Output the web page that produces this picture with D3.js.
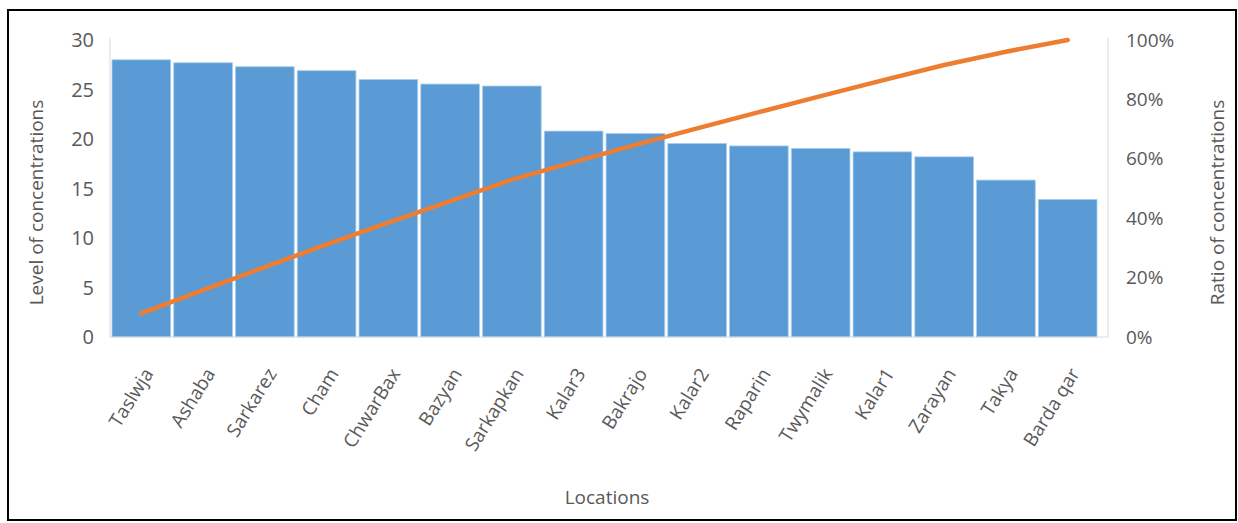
<!DOCTYPE html>
<html>
<head>
<meta charset="utf-8">
<script src="https://cdn.jsdelivr.net/npm/d3@7"></script>
<style>
body { margin: 0; background: #fff; }
svg text { font-family: "Open Sans", sans-serif; fill: #595959; }
</style>
</head>
<body>
<svg></svg>
<script>
var locations = ["Taslwja", "Ashaba", "Sarkarez", "Cham", "ChwarBax", "Bazyan", "Sarkapkan", "Kalar3",
	"Bakrajo", "Kalar2", "Raparin", "Twymalik", "Kalar1", "Zarayan", "Takya", "Barda qar"];
var levels = [28.0, 27.7, 27.3, 26.9, 26.0, 25.55, 25.35, 20.8, 20.55, 19.55, 19.3, 19.05, 18.7, 18.2, 15.85, 13.9];
var leftTicks = [0, 5, 10, 15, 20, 25, 30];
var rightTicks = [0, 0.2, 0.4, 0.6, 0.8, 1.0];

var width = 1238;
var height = 523;
var plotLeft = 110, plotRight = 1108, plotTop = 40, plotBottom = 337;
var fontSize = 19;

var svg = d3.select("svg").attr("width", width).attr("height", height);

// outer frame
svg.append("rect")
	.attr("x", 8).attr("y", 10)
	.attr("width", 1228).attr("height", 510)
	.attr("fill", "none")
	.attr("stroke", "#000")
	.attr("stroke-width", 2);

var x = d3.scaleBand()
	.domain(locations)
	.range([plotLeft + 2, plotRight - 11])
	.paddingInner(0.05)
	.paddingOuter(0);

var y = d3.scaleLinear().domain([0, 30]).range([plotBottom, plotTop]);
var y2 = d3.scaleLinear().domain([0, 1]).range([plotBottom, plotTop]);

// cumulative share of the total, as in a pareto chart
var total = d3.sum(levels);
var ratios = Array.from(d3.cumsum(levels), v => v / total);

// axis lines
svg.append("line")
	.attr("x1", plotLeft).attr("x2", plotLeft)
	.attr("y1", plotTop - 2).attr("y2", plotBottom)
	.attr("stroke", "#d9d9d9");
svg.append("line")
	.attr("x1", plotRight).attr("x2", plotRight)
	.attr("y1", plotTop - 2).attr("y2", plotBottom)
	.attr("stroke", "#d9d9d9");

// bars
svg.selectAll("rect.bar")
	.data(levels)
	.enter()
	.append("rect")
	.classed("bar", true)
	.attr("x", (d, i) => x(locations[i]))
	.attr("width", x.bandwidth())
	.attr("y", d => y(d))
	.attr("height", d => y(0) - y(d))
	.attr("fill", "#5b9bd5")
	.attr("stroke", "#a9cdee")
	.attr("stroke-width", 0.8);

svg.append("line")
	.attr("x1", plotLeft).attr("x2", plotRight)
	.attr("y1", plotBottom).attr("y2", plotBottom)
	.attr("stroke", "#d9d9d9");

// cumulative line
var line = d3.line()
	.x((d, i) => x(locations[i]) + x.bandwidth() / 2)
	.y(d => y2(d));

svg.append("path")
	.datum(ratios)
	.attr("d", line)
	.attr("fill", "none")
	.attr("stroke", "#ed7d31")
	.attr("stroke-width", 4.5)
	.attr("stroke-linecap", "round")
	.attr("stroke-linejoin", "round");

// left ticks
svg.selectAll("text.ytick")
	.data(leftTicks)
	.enter()
	.append("text")
	.classed("ytick", true)
	.attr("x", 94)
	.attr("y", d => y(d))
	.attr("dy", "0.35em")
	.attr("text-anchor", "end")
	.style("font-size", "20px")
	.text(d => d);

// right ticks
svg.selectAll("text.y2tick")
	.data(rightTicks)
	.enter()
	.append("text")
	.classed("y2tick", true)
	.attr("x", 1126)
	.attr("y", d => y2(d))
	.attr("dy", "0.35em")
	.attr("text-anchor", "start")
	.style("font-size", fontSize + "px")
	.text(d => d3.format(".0%")(d));

// category labels
svg.selectAll("text.xtick")
	.data(locations)
	.enter()
	.append("text")
	.classed("xtick", true)
	.attr("transform", d => "translate(" + (x(d) + x.bandwidth() / 2 + 7) + "," + (plotBottom + 33) + ") rotate(-58)")
	.attr("text-anchor", "end")
	.attr("dy", "0.35em")
	.style("font-size", fontSize + "px")
	.text(d => d);

// axis titles
svg.append("text")
	.attr("transform", "translate(36," + ((plotTop + plotBottom) / 2 + 14) + ") rotate(-90)")
	.attr("text-anchor", "middle")
	.attr("dy", "0.35em")
	.style("font-size", fontSize + "px")
	.text("Level of concentrations");

svg.append("text")
	.attr("transform", "translate(1217," + ((plotTop + plotBottom) / 2 + 14) + ") rotate(-90)")
	.attr("text-anchor", "middle")
	.attr("dy", "0.35em")
	.style("font-size", fontSize + "px")
	.text("Ratio of concentrations");

svg.append("text")
	.attr("x", 607)
	.attr("y", 497)
	.attr("text-anchor", "middle")
	.attr("dy", "0.35em")
	.style("font-size", fontSize + "px")
	.text("Locations");
</script>
</body>
</html>
